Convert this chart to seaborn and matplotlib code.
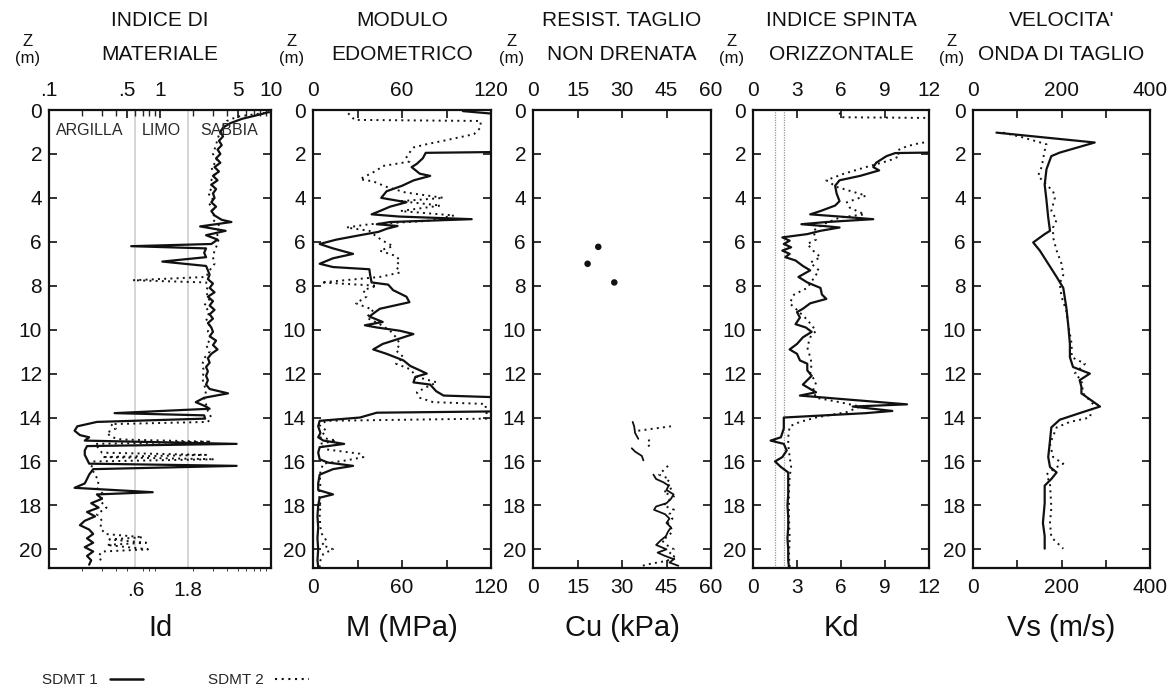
import numpy as np
import matplotlib
matplotlib.use("Agg")
import matplotlib.pyplot as plt
import seaborn as sns
from matplotlib.lines import Line2D

# ---------------- DATA ----------------
# Id (indice di materiale)
id1_depth = [0.1,0.2,0.4,0.6,0.8,1.0,1.2,1.4,1.6,1.8,2.0,2.2,2.4,2.6,2.8,3.0,3.2,3.4,3.6,3.8,4.0,4.2,4.4,4.6,4.8,5.0,5.1,5.3,5.5,5.7,5.9,6.1,6.2,6.3,6.5,6.7,6.9,7.1,7.3,7.5,7.7,7.9,8.1,8.3,8.5,8.7,8.9,9.1,9.3,9.5,9.7,9.9,10.1,10.3,10.5,10.7,10.9,11.1,11.3,11.5,11.7,11.9,12.1,12.3,12.5,12.7,12.9,13.1,13.3,13.5,13.6,13.8,13.9,14.05,14.2,14.4,14.6,14.8,14.9,15.05,15.2,15.3,15.5,15.7,15.9,16.1,16.2,16.35,16.6,16.8,17.0,17.2,17.4,17.5,17.7,17.9,18.1,18.3,18.5,18.7,18.9,19.1,19.3,19.5,19.7,19.9,20.1,20.3,20.5,20.7]
id1_value = [9.5,8.0,5.5,4.3,3.7,3.5,3.7,3.4,3.6,3.3,3.5,3.2,3.5,3.1,3.4,3.0,3.3,2.9,3.2,3.0,3.1,2.9,3.2,2.9,3.1,3.6,4.4,2.3,3.9,2.6,3.3,2.9,0.55,2.6,2.5,2.6,1.05,2.6,2.7,2.8,2.7,3.0,2.8,3.1,2.7,3.0,2.8,3.1,2.8,3.0,2.7,2.9,3.0,2.8,3.2,3.0,3.3,2.9,2.7,2.8,2.6,2.7,2.6,2.7,2.6,2.8,4.1,2.5,2.1,2.6,2.8,0.39,2.5,2.55,0.27,0.18,0.17,0.19,0.23,0.21,4.9,0.22,0.21,0.21,0.22,0.23,4.9,0.25,0.23,0.22,0.21,0.17,0.86,0.27,0.30,0.24,0.28,0.22,0.26,0.21,0.19,0.23,0.25,0.22,0.25,0.21,0.25,0.22,0.24,0.23]
id2_depth = [0.1,0.2,0.3,0.5,0.8,1.0,1.3,1.6,2.0,2.3,2.6,3.0,3.3,3.5,3.8,4.0,4.3,4.6,5.0,5.3,5.6,5.8,6.1,6.4,6.7,7.0,7.3,7.6,7.75,7.85,8.0,8.3,8.6,8.9,9.2,9.5,9.8,10.1,10.4,10.7,11.0,11.3,11.6,11.9,12.2,12.5,12.8,13.1,13.4,13.7,14.0,14.2,14.3,14.5,14.7,14.9,15.0,15.1,15.2,15.4,15.6,15.7,15.8,15.9,16.0,16.3,16.6,16.9,17.2,17.5,17.8,18.1,18.4,18.7,19.0,19.3,19.45,19.55,19.7,19.8,20.0,20.1,20.3,20.6]
id2_value = [10.0,7.0,5.0,4.0,3.6,3.5,3.3,3.2,3.0,3.3,2.9,3.1,2.8,3.0,2.7,3.0,2.8,3.1,3.0,3.5,3.2,3.4,3.3,3.1,3.0,3.1,2.8,2.6,0.57,2.6,2.7,2.6,2.8,2.5,2.8,2.6,2.8,2.7,2.9,2.6,2.8,2.5,2.4,2.5,2.4,2.5,2.6,2.5,2.6,2.7,2.9,2.7,0.36,0.40,0.33,0.37,0.45,2.9,0.26,0.28,0.30,2.6,0.30,3.1,0.25,0.24,0.26,0.28,0.27,0.31,0.29,0.33,0.27,0.30,0.29,0.32,0.70,0.35,0.75,0.33,0.78,0.30,0.28,0.30]

# M (modulo edometrico, MPa)
m1_depth = [0.05,0.15,0.3,1.0,1.9,1.95,2.2,2.45,2.6,2.9,3.0,3.2,3.45,3.7,4.0,4.2,4.4,4.6,4.75,4.85,4.97,5.1,5.2,5.28,5.4,5.55,5.7,5.9,6.1,6.3,6.55,6.75,7.0,7.15,7.25,7.5,7.85,7.95,8.2,8.5,8.75,9.05,9.4,9.65,9.8,9.9,10.05,10.2,10.4,10.65,10.9,11.1,11.4,11.65,11.85,12.0,12.15,12.4,12.5,12.8,13.0,13.08,13.5,13.72,13.78,14.0,14.15,14.4,14.7,14.9,15.05,15.2,15.35,15.6,15.9,16.05,16.2,16.35,16.6,17.0,17.3,17.5,17.65,18.0,18.5,19.0,19.5,20.0,20.5,20.8]
m1_value = [101,118,140,140,140,76,74,70,66.5,72,79,68,60,49.6,46,63,52,45,39.5,58,107,52,43,57,50,44,31.6,15.8,4.5,13.5,27,13.5,4.5,13.5,38,38.5,39.5,50.7,54,63,65,45,38,47,35,43,58.6,67.7,58.6,47,40.6,49.6,61,65.5,72,76.7,69,67.7,79,83,88,125,130,125,43,31.6,4.5,3.5,5,3.5,7,21,4.5,3.5,4.5,10,27,13.5,4.5,3.5,3.5,13.5,4.5,3.5,3,3.5,3,3.5,3,3.5]
m2_depth = [0.15,0.3,0.45,0.5,0.8,1.1,1.4,1.55,1.7,1.85,2.15,2.35,2.55,2.75,3.15,3.25,3.5,3.75,4.0,4.15,4.35,4.6,4.8,5.05,5.2,5.35,5.5,5.7,5.95,6.2,6.4,6.65,6.85,7.1,7.4,7.6,7.85,8.0,8.2,8.5,8.8,9.1,9.45,9.75,10.05,10.35,10.65,10.95,11.25,11.55,11.8,12.15,12.4,12.6,12.85,13.1,13.3,13.38,13.7,14.05,14.15,14.35,14.6,14.9,15.05,15.2,15.45,15.65,15.8,15.95,16.1,16.6,17.0,17.5,18.0,18.5,19.0,19.3,19.6,19.8,20.0,20.2,20.5,20.8]
m2_value = [23.7,26,28,113,113,108.5,88,77,68,66,63,65,47,43,31.6,40.6,49.6,62,88,59,86,59,95,77,38,22.6,38,41.6,47,54,45,56,58.6,56,58.6,45,5.6,43,34,36,29,40.6,36,45,52,56,58.6,56,61,56,65.5,70,83.5,77,70,72,81,116,117,117,9,4.5,9,4.5,15.8,4.5,9,31.6,34,22.6,6.8,4.5,5,4,5,4.5,5,6,9,6,13.5,7,5,4.5]

# Cu (resistenza al taglio non drenata, kPa)
cu_pts_depth = [6.23, 7.0, 7.85]
cu_pts_value = [22.0, 18.4, 27.4]
cu1_depth = [14.2,14.4,14.7,14.97, 15.4,15.55,15.75,15.95, 16.6,16.8,16.95,17.1,17.3,17.5,17.7,17.9,18.05,18.2,18.4,18.6,18.8,19.0,19.2,19.4,19.6,19.8,20.0,20.15,20.3,20.45,20.6,20.75]
cu1_value = [33.6,34.1,34.4,35.5, 33.3,34.4,36.7,37.2, 40.6,41.5,44.0,45.7,45.0,47.4,46.5,45.0,41.5,40.8,44.5,46.0,45.0,46.5,45.5,44.8,43.0,41.5,45.0,42.0,44.5,47.5,46.0,49.0]
cu1_segment = [1]*4 + [2]*4 + [3]*24
cu2_depth = [14.6,14.5,14.4, 15.0,15.25,15.4, 16.2,16.4,16.6,16.8,17.0,17.2,17.4,17.6,17.8,18.0,18.2,18.4,18.6,18.8,19.0,19.2,19.4,19.6,19.8,20.0,20.2,20.4,20.55,20.7,20.8]
cu2_value = [35.5,41.0,46.5, 39.0,39.5,37.5, 45.5,44.0,42.5,46.0,45.0,47.0,44.0,47.5,45.5,44.0,47.5,46.0,47.0,45.5,46.5,47.0,45.5,43.5,45.0,47.5,46.0,48.5,44.0,38.0,36.0]
cu2_segment = [1]*3 + [2]*3 + [3]*25

# Kd (indice di spinta orizzontale)
kd1_depth = [1.85,1.93,1.96,2.1,2.4,2.6,2.75,3.0,3.2,3.45,3.8,4.15,4.35,4.6,4.75,4.85,4.97,5.1,5.2,5.28,5.35,5.5,5.65,5.8,5.95,6.1,6.25,6.4,6.55,6.7,6.85,7.1,7.3,7.6,7.85,8.1,8.4,8.6,8.8,9.05,9.2,9.45,9.75,9.9,10.1,10.35,10.65,10.9,11.1,11.4,11.55,11.85,12.1,12.3,12.5,12.7,12.85,13.0,13.15,13.4,13.5,13.7,13.8,14.0,14.5,14.9,15.05,15.2,15.5,15.8,16.0,16.25,16.5,17.0,17.5,18.0,18.5,19.0,19.5,20.0,20.5,20.8]
kd1_value = [13,13,9.7,9.1,8.4,8.2,8.6,7.3,5.9,5.6,5.7,5.9,5.6,4.6,3.9,5.9,8.2,5.0,3.3,4.8,5.9,4.6,3.7,2.0,2.5,2.1,2.6,2.0,2.5,2.2,2.9,3.4,3.9,3.1,3.7,4.6,4.7,5.0,3.9,3.4,3.0,3.2,2.9,3.6,4.0,3.4,3.0,2.5,3.0,3.2,3.7,3.7,4.0,3.7,3.4,3.9,4.3,3.2,5.9,10.5,6.8,9.5,7.7,2.1,2.1,1.9,1.2,2.1,2.3,2.0,1.5,1.9,2.4,2.4,2.4,2.35,2.4,2.4,2.35,2.4,2.4,2.45]
kd2_depth = [0.12,0.33,0.36,0.45,1.35,1.5,1.65,1.85,2.1,2.3,2.6,2.9,3.2,3.5,3.9,4.2,4.45,4.75,4.9,5.2,5.5,5.9,6.1,6.4,6.7,6.95,7.3,7.6,8.1,8.4,8.8,9.1,9.55,10.05,10.35,10.8,11.25,11.55,12.0,12.4,12.75,13.1,13.3,13.5,13.75,14.0,14.2,14.4,14.9,15.2,15.8,16.25,16.7,17.5,18.5,19.5,20.3,20.8]
kd2_value = [5.9,6.0,11.8,13.5,13.5,11.4,10.5,9.8,10.0,9.3,7.7,6.2,5.0,5.7,7.7,6.4,6.6,7.6,5.9,4.8,4.1,4.3,3.7,4.1,4.6,3.9,4.5,4.2,3.7,2.8,2.5,3.0,3.7,4.3,3.9,3.7,3.9,4.0,3.9,4.3,4.1,4.3,5.9,7.3,6.4,4.3,3.2,2.5,2.4,2.4,2.5,2.6,2.5,2.45,2.45,2.5,2.45,2.5]

# Vs (velocita' onda di taglio, m/s)
vs1_depth = [1.03,1.48,1.94,2.1,2.7,3.4,4.1,4.9,5.5,5.65,6.03,6.4,7.0,7.6,8.1,9.0,9.75,10.65,11.25,11.7,12.0,12.3,12.6,12.9,13.5,13.8,14.1,14.45,15.05,15.8,16.25,16.5,16.8,17.1,17.9,18.8,19.4,19.97]
vs1_value = [53,275,196,177,166,162,166,170,174,162,136,151,170,189,204,211,215,219,219,226,264,241,245,245,287,241,196,177,174,170,174,189,177,162,162,158,162,162]
vs2_depth = [1.03,1.25,1.56,1.85,2.6,3.0,3.4,3.7,4.0,4.6,5.0,5.35,5.8,6.4,7.0,7.5,7.9,8.5,9.15,9.75,10.65,11.25,11.55,12.0,12.3,12.9,13.4,14.0,14.2,14.45,15.2,15.8,16.1,16.3,16.6,17.0,18.1,18.8,19.45,19.97]
vs2_value = [68,113,166,162,155,147,166,181,185,177,189,181,181,189,200,204,196,200,211,215,223,223,253,230,245,249,272,264,219,189,174,181,204,185,166,174,177,174,177,204]

# Labels
titles = [("INDICE DI", "MATERIALE"), ("MODULO", "EDOMETRICO"),
          ("RESIST. TAGLIO", "NON DRENATA"), ("INDICE SPINTA", "ORIZZONTALE"),
          ("VELOCITA'", "ONDA DI TAGLIO")]
xlabels = ["Id", "M (MPa)", "Cu (kPa)", "Kd", "Vs (m/s)"]
id_top_ticks = [0.1, 0.5, 1, 5, 10]
id_top_labels = [".1", ".5", "1", "5", "10"]
id_bottom_ticks = [0.6, 1.8]
id_bottom_labels = [".6", "1.8"]
soil_labels = ["ARGILLA", "LIMO", "SABBIA"]
soil_label_x = [0.235, 1.03, 4.2]
m_ticks = [0, 30, 60, 90, 120]
m_labels = ["0", "", "60", "", "120"]
cu_ticks = [0, 15, 30, 45, 60]
cu_labels = ["0", "15", "30", "45", "60"]
kd_ticks = [0, 3, 6, 9, 12]
kd_labels = ["0", "3", "6", "9", "12"]
kd_ref_lines = [1.5, 2.1]
vs_ticks = [0, 100, 200, 300, 400]
vs_labels = ["0", "", "200", "", "400"]
depth_ticks = list(range(0, 21, 2))
legend_labels = ["SDMT 1", "SDMT 2"]

# ---------------- STYLE ----------------
sns.set_style("ticks")
plt.rcParams["font.family"] = ["Liberation Sans", "DejaVu Sans"]
NARROW = ["Liberation Sans Narrow", "Liberation Sans", "DejaVu Sans"]
SOLID = "-"
DOTTED = (0, (1, 2.2))
LW_S, LW_D = 1.6, 1.4

W, H = 1176, 691
fig = plt.figure(figsize=(W / 100, H / 100), dpi=100)
fig.patch.set_facecolor("white")

panel_px = [(49, 271), (313, 491), (533, 711), (753, 929), (973, 1150)]
TOP, BOT = 110, 568


def add_ax(x0, x1):
    return fig.add_axes([x0 / W, 1 - BOT / H, (x1 - x0) / W, (BOT - TOP) / H])


axes = [add_ax(a, b) for a, b in panel_px]


def draw(ax, depth, value, ls, lw, units=None):
    sns.lineplot(x=value, y=depth, units=units, estimator=None, sort=False,
                 orient="y", color="#111111", linestyle=ls, linewidth=lw,
                 ax=ax, legend=False)


def setup(ax, ticks=None, labels=None, xlim=None):
    ax.set_ylim(20.85, 0)
    ax.set_yticks(depth_ticks)
    ax.set_yticklabels([str(d) for d in depth_ticks])
    if xlim is not None:
        ax.set_xlim(*xlim)
    if ticks is not None:
        ax.set_xticks(ticks)
        ax.set_xticklabels(labels)
    ax.tick_params(axis="both", which="major", direction="in", top=True, right=True,
                   length=6, width=1.2, labelsize=15, colors="#111111")
    ax.tick_params(axis="x", labeltop=True, labelbottom=True, pad=7)
    ax.tick_params(axis="y", labelleft=True, labelright=False, pad=5)
    ax.set_xlabel("")
    ax.set_ylabel("")
    for s in ax.spines.values():
        s.set_linewidth(1.6)
        s.set_color("#111111")
    ax.set_facecolor("white")


# Panel 1: Id (log)
ax = axes[0]
ax.set_xscale("log")
for v in id_bottom_ticks:
    ax.axvline(v, color="#d0d0d0", lw=1.2, zorder=0)
draw(ax, id2_depth, id2_value, DOTTED, LW_D)
draw(ax, id1_depth, id1_value, SOLID, LW_S)
setup(ax, id_top_ticks, id_top_labels, (0.1, 10))
ax.xaxis.set_minor_locator(matplotlib.ticker.FixedLocator(
    [0.2, 0.3, 0.4, 0.6, 0.7, 0.8, 0.9, 2, 3, 4, 6, 7, 8, 9]))
ax.xaxis.set_minor_formatter(matplotlib.ticker.NullFormatter())
ax.tick_params(axis="x", which="both", bottom=False, labelbottom=False, top=True)
ax.tick_params(axis="x", which="minor", direction="in", length=4, width=1.0)
sec = ax.secondary_xaxis("bottom")
sec.set_xticks(id_bottom_ticks)
sec.set_xticklabels(id_bottom_labels)
sec.tick_params(length=0, labelsize=15, pad=9, colors="#111111")
sec.spines["bottom"].set_visible(False)
for lab, xv in zip(soil_labels, soil_label_x):
    ax.text(xv, 0.95, lab, ha="center", va="center", fontsize=11.5, color="#2a2a2a")

# Panel 2: M
ax = axes[1]
draw(ax, m2_depth, m2_value, DOTTED, LW_D)
draw(ax, m1_depth, m1_value, SOLID, LW_S)
setup(ax, m_ticks, m_labels, (0, 120))

# Panel 3: Cu
ax = axes[2]
draw(ax, cu2_depth, cu2_value, DOTTED, LW_D, units=cu2_segment)
draw(ax, cu1_depth, cu1_value, SOLID, 1.3, units=cu1_segment)
sns.scatterplot(x=cu_pts_value, y=cu_pts_depth, color="#111111", s=22,
                edgecolor="none", ax=ax, legend=False)
setup(ax, cu_ticks, cu_labels, (0, 60))

# Panel 4: Kd
ax = axes[3]
for v in kd_ref_lines:
    ax.axvline(v, color="#9a9a9a", lw=0.9, ls=(0, (1, 1)), zorder=0)
draw(ax, kd2_depth, kd2_value, DOTTED, LW_D)
draw(ax, kd1_depth, kd1_value, SOLID, LW_S)
setup(ax, kd_ticks, kd_labels, (0, 12))

# Panel 5: Vs
ax = axes[4]
draw(ax, vs2_depth, vs2_value, DOTTED, LW_D)
draw(ax, vs1_depth, vs1_value, SOLID, LW_S)
setup(ax, vs_ticks, vs_labels, (0, 400))

# Titles, Z (m) labels and bottom axis names
for (x0, x1), (t1, t2), xl in zip(panel_px, titles, xlabels):
    cx = (x0 + x1) / 2 / W
    fig.text(cx, 1 - 21 / H, t1, ha="center", va="center", fontsize=15,
             family=NARROW, color="#111111")
    fig.text(cx, 1 - 54 / H, t2, ha="center", va="center", fontsize=15,
             family=NARROW, color="#111111")
    fig.text(cx, 1 - 628 / H, xl, ha="center", va="center", fontsize=21,
             family=NARROW, color="#111111")
    zx = (x0 - 21) / W
    fig.text(zx, 1 - 41 / H, "Z", ha="center", va="center", fontsize=12, color="#111111")
    fig.text(zx, 1 - 58 / H, "(m)", ha="center", va="center", fontsize=12, color="#111111")

# Legend (label first, then line sample)
handles = [Line2D([], [], color="#111111", lw=1.8, ls=SOLID),
           Line2D([], [], color="#111111", lw=1.5, ls=(0, (1, 2.2)))]
fig.legend(handles, legend_labels, loc="center left",
           bbox_to_anchor=(28 / W, 1 - 680 / H), ncol=2, markerfirst=False,
           frameon=False, fontsize=11, handlelength=2.2, handletextpad=0.8,
           columnspacing=4.2)

fig.savefig("out.png", dpi=100, facecolor="white")
